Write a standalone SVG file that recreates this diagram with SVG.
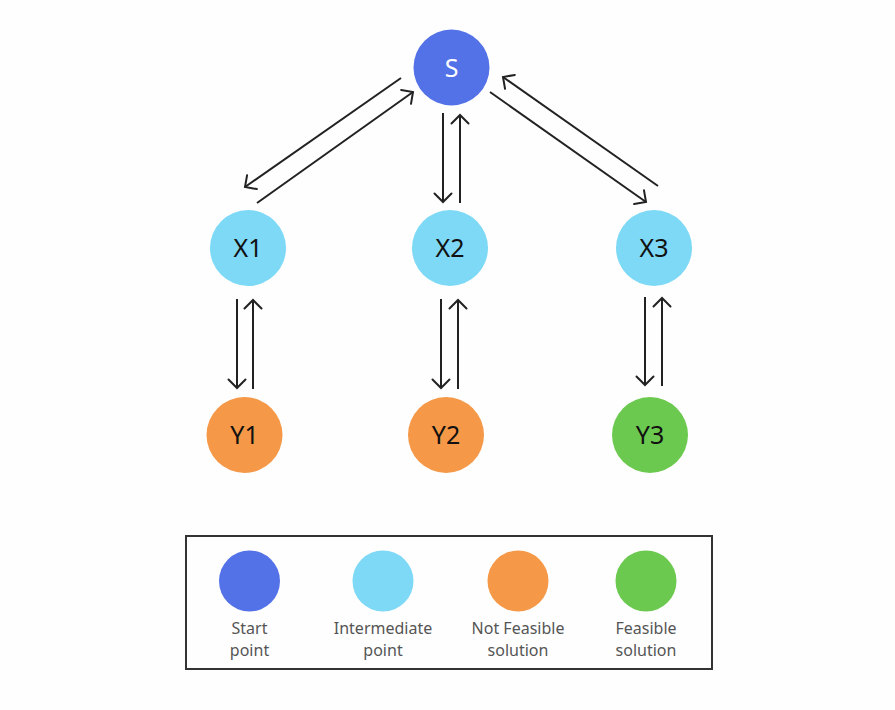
<svg xmlns="http://www.w3.org/2000/svg" width="895" height="710" viewBox="0 0 895 710">
<defs>
<marker id="ah" markerUnits="userSpaceOnUse" markerWidth="20" markerHeight="20" viewBox="-10 -10 20 20" refX="0" refY="0" orient="auto">
<path d="M-8.5,-8.5 L0,0 L-8.5,8.5" fill="none" stroke="#222" stroke-width="2" stroke-linecap="round" stroke-linejoin="miter"/>
</marker>
</defs>
<style>
.lbl{font-family:"Noto Sans","Open Sans",sans-serif;font-size:25px;text-anchor:middle;fill:#111}
.leg{font-family:"Noto Sans","Open Sans",sans-serif;font-size:16px;text-anchor:middle;fill:#555}
.edge{stroke:#222;stroke-width:2;fill:none;marker-end:url(#ah)}
.start{fill:#5472E8}
.inter{fill:#7DD9F6}
.nf{fill:#F59847}
.fs{fill:#6CC94F}
</style>
<rect width="895" height="710" fill="#fefefe"/>
<g id="connectors">
<line class="edge" x1="401" y1="78" x2="245" y2="187"/>
<line class="edge" x1="257" y1="203" x2="413" y2="92"/>
<line class="edge" x1="443" y1="113" x2="443" y2="202"/>
<line class="edge" x1="460" y1="203" x2="460" y2="115"/>
<line class="edge" x1="490" y1="92" x2="646" y2="202"/>
<line class="edge" x1="658" y1="186" x2="503" y2="77"/>
<line class="edge" x1="237" y1="299" x2="237" y2="388"/>
<line class="edge" x1="253" y1="389" x2="253" y2="300"/>
<line class="edge" x1="441" y1="299" x2="441" y2="388"/>
<line class="edge" x1="458" y1="389" x2="458" y2="300"/>
<line class="edge" x1="645" y1="297" x2="645" y2="385"/>
<line class="edge" x1="662" y1="386" x2="662" y2="298"/>
</g>
<g id="S"><circle class="start" cx="451.5" cy="67.5" r="38"/><text class="lbl" x="451.5" y="76.5" fill="#fff" style="fill:#fff">S</text></g>
<g id="X1"><circle class="inter" cx="248" cy="248" r="38"/><text class="lbl" x="248" y="257">X1</text></g>
<g id="X2"><circle class="inter" cx="450" cy="248" r="38"/><text class="lbl" x="450" y="257">X2</text></g>
<g id="X3"><circle class="inter" cx="654" cy="248" r="38"/><text class="lbl" x="654" y="257">X3</text></g>
<g id="Y1"><circle class="nf" cx="244.5" cy="435" r="38"/><text class="lbl" x="244.5" y="444">Y1</text></g>
<g id="Y2"><circle class="nf" cx="446" cy="435" r="38"/><text class="lbl" x="446" y="444">Y2</text></g>
<g id="Y3"><circle class="fs" cx="650" cy="435" r="38"/><text class="lbl" x="650" y="444">Y3</text></g>
<g id="legend">
<rect x="186" y="536" width="526" height="133" fill="none" stroke="#333" stroke-width="2"/>
<circle class="start" cx="249.5" cy="581" r="30.5"/>
<text class="leg" x="249.5" y="634">Start</text><text class="leg" x="249.5" y="656">point</text>
<circle class="inter" cx="383" cy="581" r="30.5"/>
<text class="leg" x="383" y="634">Intermediate</text><text class="leg" x="383" y="656">point</text>
<circle class="nf" cx="518" cy="581" r="30.5"/>
<text class="leg" x="518" y="634">Not Feasible</text><text class="leg" x="518" y="656">solution</text>
<circle class="fs" cx="646" cy="581" r="30.5"/>
<text class="leg" x="646" y="634">Feasible</text><text class="leg" x="646" y="656">solution</text>
</g>
</svg>
